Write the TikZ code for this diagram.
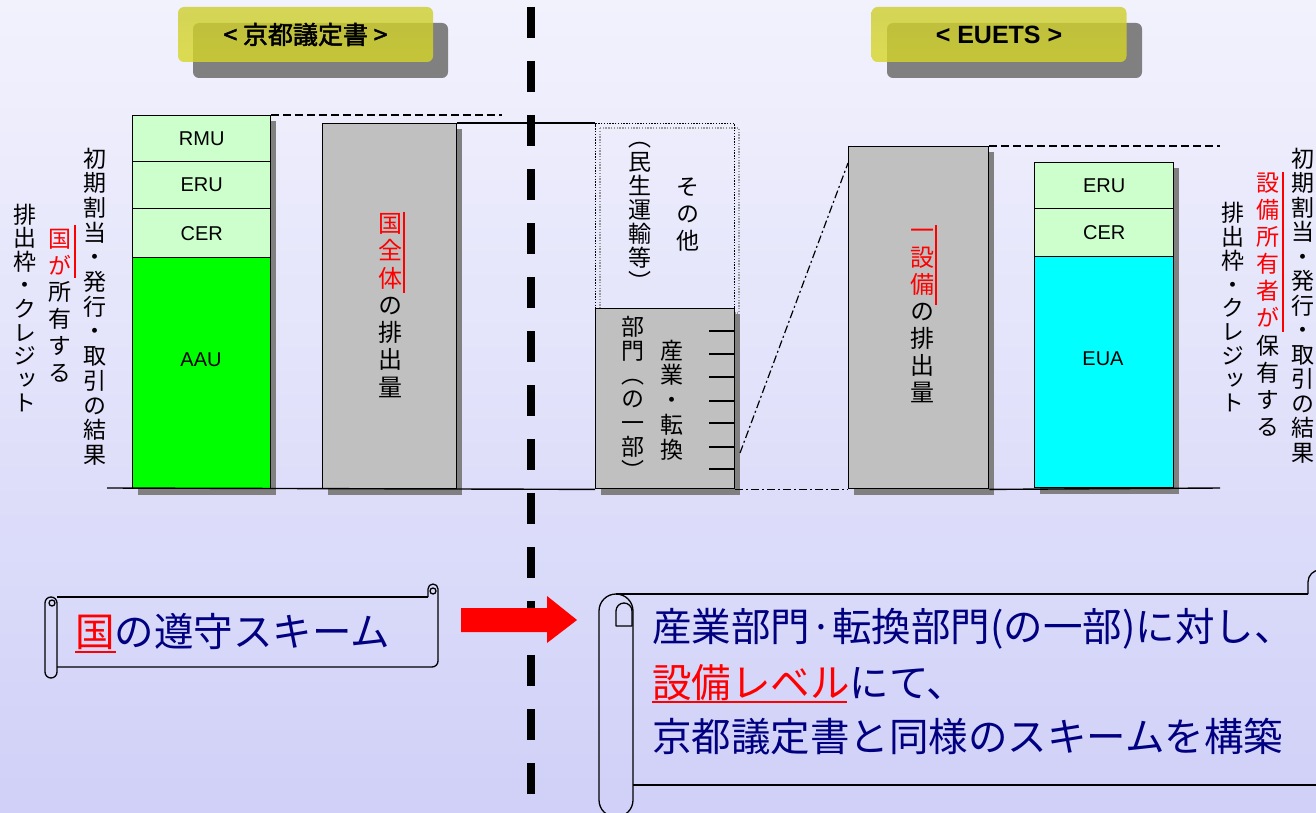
\documentclass[tikz,border=0pt]{standalone}
\usepackage{fontspec}
\setmainfont{Noto Sans CJK JP}
\newfontfamily\jpv[RawFeature=+vert]{Noto Sans CJK JP}
\newfontfamily\jpb[FakeBold=2]{Noto Sans CJK JP}
\newfontfamily\arialf{Liberation Sans}
\newcommand\vtf[2]{\jpv\fontsize{#1}{#2}\selectfont}
\definecolor{bgtop}{RGB}{242,242,253}
\definecolor{bgbot}{RGB}{208,208,248}
\definecolor{lgreen}{RGB}{204,255,204}
\definecolor{brgreen}{RGB}{0,255,0}
\definecolor{aqua}{RGB}{0,255,255}
\definecolor{navyblue}{RGB}{0,0,128}
\definecolor{shgray}{RGB}{128,128,128}
\definecolor{barg}{RGB}{192,192,192}
\definecolor{oliveA}{RGB}{205,205,45}
\definecolor{yelB}{RGB}{255,255,55}
\definecolor{oliveC}{RGB}{215,215,40}
\begin{document}
\begin{tikzpicture}[x=1pt,y=-1pt,
  bar/.style={draw=black,line width=1.4pt,inner sep=0pt,anchor=north west},
  lab/.style={font=\arialf\fontsize{20}{24}\selectfont,inner sep=0pt},
  vt/.style={align=center,inner sep=0pt},
  emph/.style={red,line width=2pt},
  scrl/.style={draw=black,line width=1.3pt,line join=round},
  base/.style={line width=1.4pt},
  dashline/.style={line width=1.3pt,dash pattern=on 8pt off 4pt},
  dashdot/.style={line width=1.2pt,dash pattern=on 8pt off 3pt on 2pt off 3pt},
  titlebox/.style={rounded corners=6pt,minimum width=255pt,minimum height=55pt,inner sep=0pt,
     top color=oliveA,middle color=yelB,bottom color=oliveC,fill opacity=0.8,text opacity=1},
  scrtext/.style={font=\fontsize{39.5}{48}\selectfont,text=navyblue,inner sep=0pt,anchor=west}
]
\useasboundingbox (0,0) rectangle (1316,813);
\clip (0,0) rectangle (1316,813);
\node[anchor=north west,inner sep=0pt,outer sep=0pt,minimum width=1316pt,minimum height=813pt,
  top color=bgtop,bottom color=bgbot] (bg) at (0,0) {};

% titles
\fill[shgray,rounded corners=6pt] (193,23) rectangle (448,78);
\node[titlebox] (kyoto) at (305.5,34.5) {\jpb\fontsize{25}{30}\selectfont < 京都議定書 >};
\fill[shgray,rounded corners=6pt] (887,23) rectangle (1142,78);
\node[titlebox] (euets) at (999,34.5) {\arialf\bfseries\fontsize{25}{30}\selectfont < EUETS >};

% shadows
\fill[shgray] (138,121) rectangle (276,495);
\fill[shgray] (328,129) rectangle (462,495);
\fill[shgray] (601,314) rectangle (740,495);
\fill[shgray] (854,152) rectangle (994,495);
\fill[shgray] (1040,168) rectangle (1179,494);
\draw[gray!80,line width=1.4pt,dash pattern=on 1.4pt off 1.4pt] (600,128) rectangle (739,313);

% coordinates
\coordinate (bl) at (107,488);
\coordinate (br) at (1220,488);
\coordinate (dk) at (502,115);
\coordinate (de) at (1220,146);
\coordinate (dd1) at (740,453);
\coordinate (dd2) at (848,163);

% left stacked bar
\node[bar,fill=lgreen,lab,minimum width=138pt,minimum height=46pt] (rmu) at (132,115) {RMU};
\node[bar,fill=lgreen,lab,minimum width=138pt,minimum height=47pt] (eru1) at (132,161) {ERU};
\node[bar,fill=lgreen,lab,minimum width=138pt,minimum height=49pt] (cer1) at (132,208) {CER};
\node[bar,fill=brgreen,minimum width=138pt,minimum height=231pt] (aau) at (132,257) {};
\node[lab] (aaul) at (201,360) {AAU};

% gray bars
\node[bar,fill=barg,minimum width=134pt,minimum height=365pt] (gk) at (322,123) {};
\node[bar,fill=barg,minimum width=139pt,minimum height=180pt] (sangyo) at (595,308) {};
\node[draw=black,line width=1.4pt,dash pattern=on 1.4pt off 1.4pt,inner sep=0pt,anchor=north west,
  minimum width=139pt,minimum height=185pt] (other) at (595,123) {};
\node[bar,fill=barg,minimum width=140pt,minimum height=342pt] (eq) at (848,146) {};

% right stacked bar
\node[bar,fill=lgreen,lab,minimum width=139pt,minimum height=46pt] (eru2) at (1034,162) {ERU};
\node[bar,fill=lgreen,lab,minimum width=139pt,minimum height=48pt] (cer2) at (1034,208) {CER};
\node[bar,fill=aqua,minimum width=139pt,minimum height=231pt] (eua) at (1034,256) {};
\node[lab] (eual) at (1103,359) {EUA};

% lines
\draw[base] (bl) -- (sangyo.south west);
\draw[dashdot] (sangyo.south east) -- (eq.south west);
\draw[base] (eq.south east) -- (br);
\draw[dashline] (rmu.north east) -- (dk);
\draw[base] (gk.north east) -- (other.north west);
\draw[dashline] (eq.north east) -- (de);
\draw[dashdot] (dd1) -- (dd2);
\foreach \ty in {331,354,377,401,423,447,469} \draw[line width=1.2pt] (709,\ty) -- (734,\ty);

% vertical texts
\node[vt,font=\vtf{23}{24.7}] (lc1) at (95,306.5) {初\\期\\割\\当\\・\\発\\行\\・\\取\\引\\の\\結\\果};
\node[vt,font=\vtf{23}{26.8}] (lc2) at (60,305.5) {\textcolor{red}{国}\\\textcolor{red}{が}\\所\\有\\す\\る};
\draw[emph] (75,225) -- (75,278);
\node[vt,font=\vtf{23}{23.6}] (lc3) at (25,308) {排\\出\\枠\\・\\ク\\レ\\ジ\\ッ\\ト};

\node[vt,font=\vtf{23}{24.5}] (rc1) at (1303,305.5) {初\\期\\割\\当\\・\\発\\行\\・\\取\\引\\の\\結\\果};
\node[vt,font=\vtf{23}{27.1}] (rc2) at (1268,304.5) {\textcolor{red}{設}\\\textcolor{red}{備}\\\textcolor{red}{所}\\\textcolor{red}{有}\\\textcolor{red}{者}\\\textcolor{red}{が}\\保\\有\\す\\る};
\draw[emph] (1283,172) -- (1283,332);
\node[vt,font=\vtf{23}{23.75}] (rc3) at (1233,307.5) {排\\出\\枠\\・\\ク\\レ\\ジ\\ッ\\ト};

\node[vt,font=\vtf{24}{27.3}] (t1) at (390,305.5) {\textcolor{red}{国}\\\textcolor{red}{全}\\\textcolor{red}{体}\\の\\排\\出\\量};
\draw[emph] (404,212) -- (404,293);
\node[vt,font=\vtf{24}{27}] (t2) at (922,316) {\textcolor{red}{一}\\\textcolor{red}{設}\\\textcolor{red}{備}\\の\\排\\出\\量};
\draw[emph] (936,225) -- (936,305);
\node[vt,font=\vtf{23}{27}] (t3) at (688,214.5) {そ\\の\\他};
\node[vt,font=\vtf{23}{24}] (t4) at (640,216) {︵\\民\\生\\運\\輸\\等\\︶};
\node[vt,font=\vtf{23}{24.75}] (t5) at (672,400) {産\\業\\・\\転\\換};
\node[vt,font=\vtf{23}{24}] (t6) at (633,397.5) {部\\門\\︵\\の\\一\\部\\︶};

% separator
\coordinate (sepT) at (531,7);
\coordinate (sepB) at (531,813);
\draw[line width=8pt,dash pattern=on 31pt off 23pt] (sepT) -- (sepB);

% left scroll
\draw[scrl] (57,597) -- (428,597);
\draw[scrl] (428,597) -- (428,589) arc[start angle=180,end angle=360,radius=5] -- (438,661) arc[start angle=0,end angle=90,radius=6] -- (57,667);
\draw[scrl] (433,591) circle[radius=3];
\draw[scrl] (45,603) arc[start angle=180,end angle=360,radius=6] -- (57,672) arc[start angle=0,end angle=180,radius=6] -- cycle;
\draw[scrl] (52,603) circle[radius=3];
\node[scrtext] (ls) at (75,632) {\textcolor{red}{国}の遵守スキーム};
\draw[red,line width=2.5pt] (75,652) -- (116,652);

% arrow
\fill[red] (461,608) -- (547,608) -- (547,596) -- (577,620) -- (547,643) -- (547,632) -- (461,632) -- cycle;

% right scroll
\draw[scrl] (599,611) arc[start angle=180,end angle=360,radius=17] -- (633,800) arc[start angle=0,end angle=180,radius=17] -- cycle;
\draw[scrl] (616,626) -- (616,611) arc[start angle=180,end angle=360,radius=8] -- (632,626) -- cycle;
\draw[scrl] (616,594) -- (1308,594);
\draw[scrl] (633,785) -- (1330,785);
\draw[scrl] (1308,594) -- (1308,582) arc[start angle=180,end angle=270,radius=12] -- (1330,570);
\node[scrtext] (r1) at (652,629) {産業部門·転換部門(の一部)に対し、};
\node[scrtext] (r2) at (652,683) {\textcolor{red}{設備レベル}にて、};
\node[scrtext] (r3) at (652,737) {京都議定書と同様のスキームを構築};
\draw[red,line width=2.5pt] (652,702) -- (847,702);
\end{tikzpicture}
\end{document}
